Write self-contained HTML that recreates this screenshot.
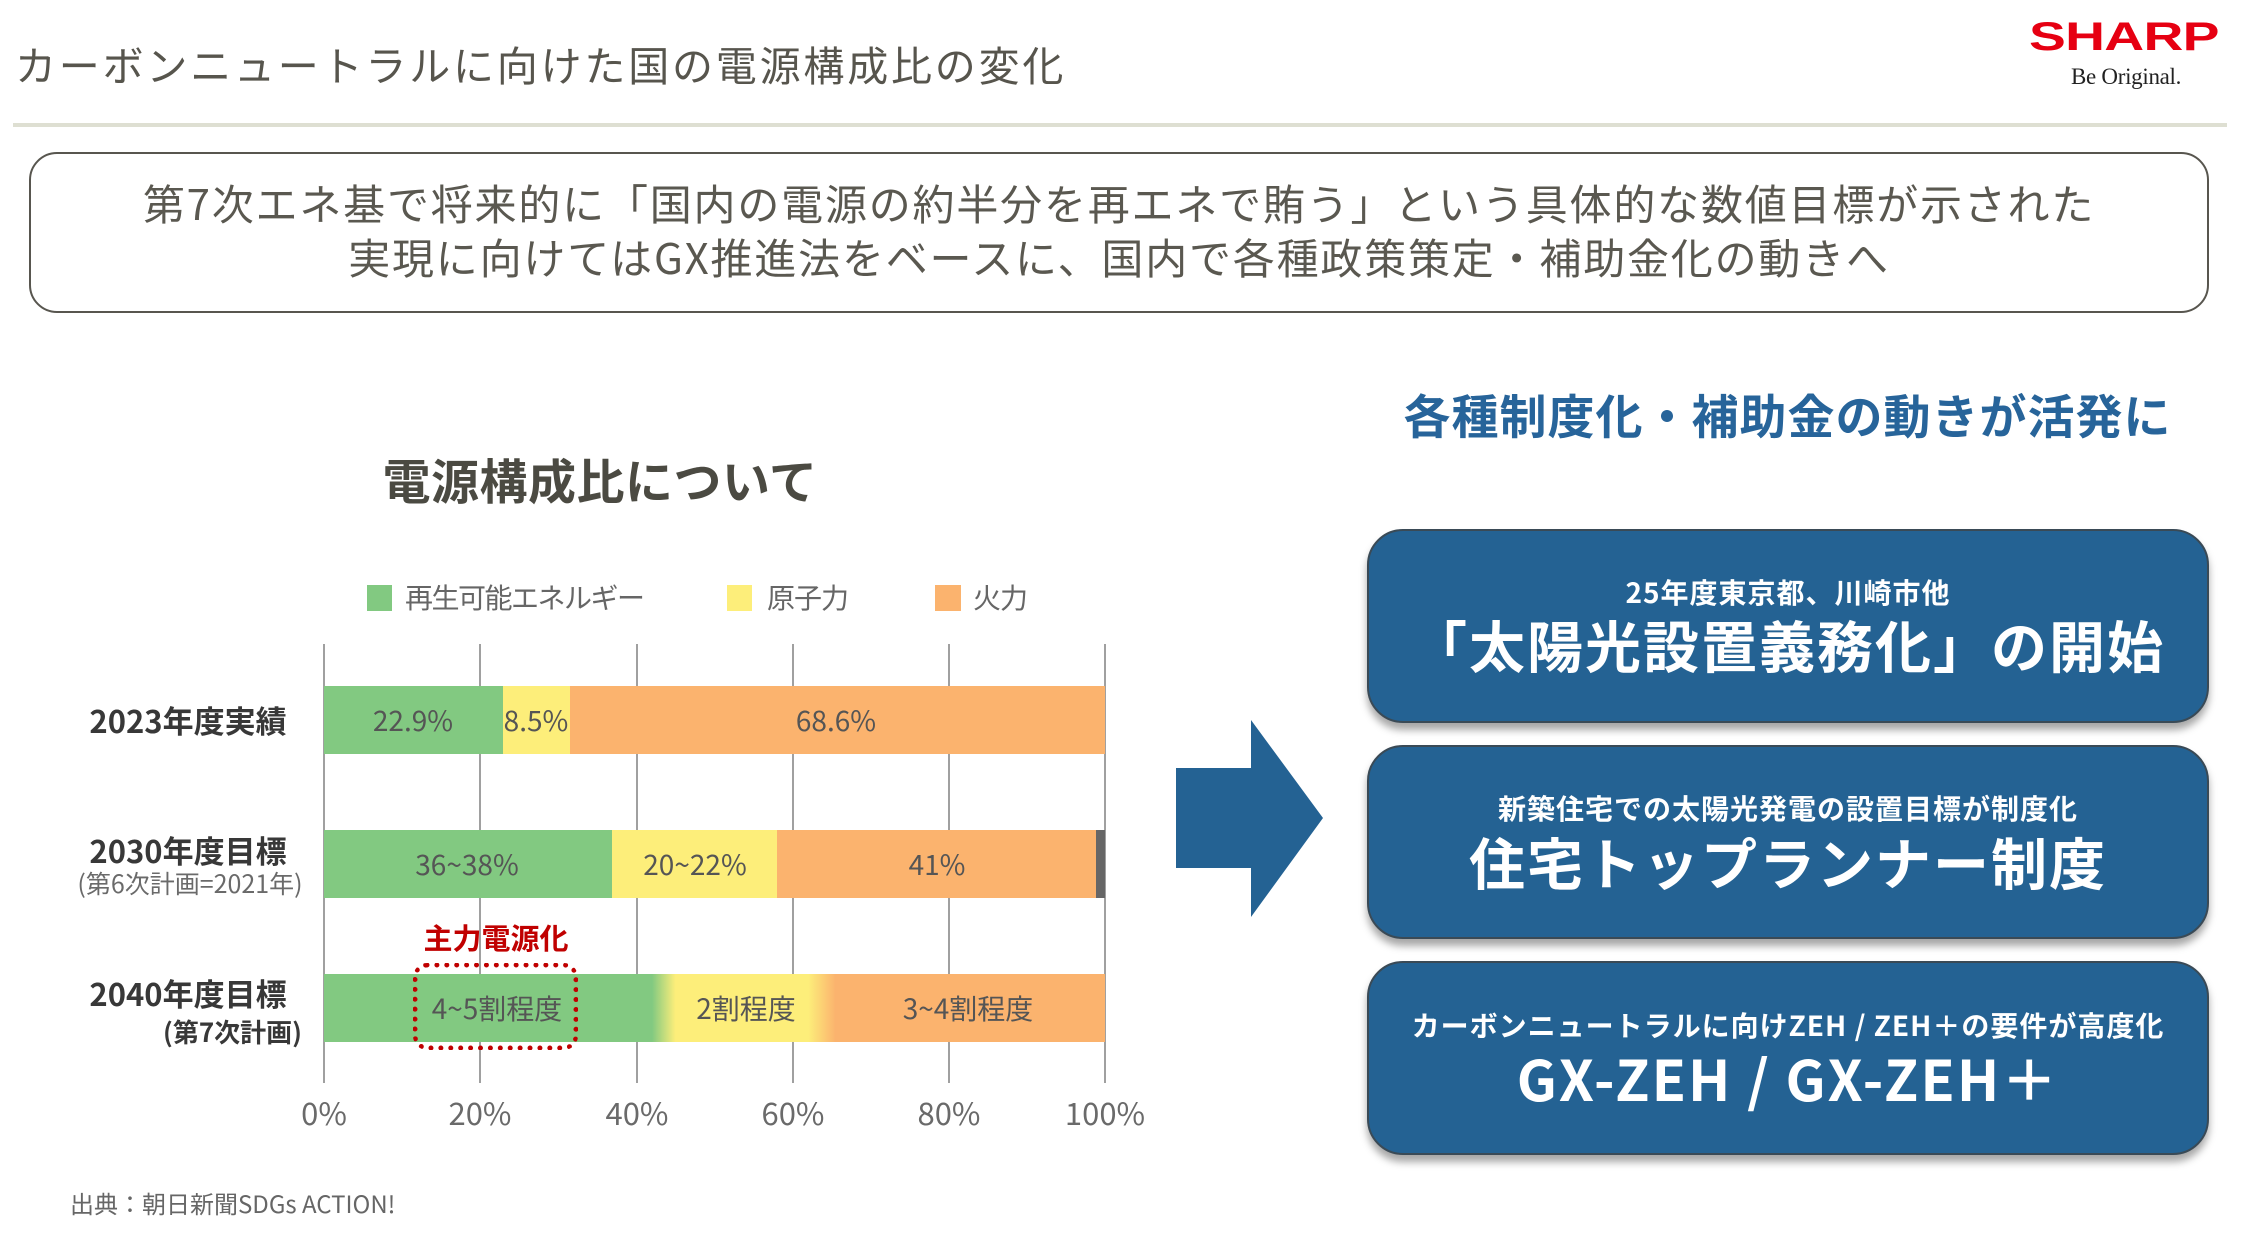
<!DOCTYPE html>
<html>
<head>
<meta charset="utf-8">
<style>
*{margin:0;padding:0;box-sizing:border-box;}
html,body{width:2241px;height:1249px;background:#fff;overflow:hidden;}
body{position:relative;font-family:"Liberation Sans","Noto Sans CJK JP",sans-serif;}
.a{position:absolute;white-space:nowrap;}
.jp{font-family:"Noto Sans CJK JP","Liberation Sans",sans-serif;}
.c{text-align:center;}
.grid{position:absolute;top:644px;height:439px;width:2px;background:#a0a0a0;}
.seg{position:absolute;}
.bl{position:absolute;font-size:28px;color:#555;text-align:center;line-height:68px;height:68px;}
.ax{position:absolute;top:1090px;width:120px;text-align:center;font-size:31px;color:#6a6a6a;line-height:44px;}
.box{position:absolute;left:1367px;width:842px;height:194px;background:#246293;border:2px solid #3a4a56;border-radius:36px;box-shadow:0 7px 8px rgba(0,0,0,0.35);}
.sub{position:absolute;left:0;width:100%;text-align:center;color:#fff;font-weight:700;font-size:28px;letter-spacing:1px;line-height:40px;}
.main{position:absolute;left:0;width:100%;text-align:center;color:#fff;font-weight:700;font-size:56px;letter-spacing:2px;line-height:70px;}
</style>
</head>
<body>

<!-- Header -->
<div class="a jp" style="left:15px;top:35px;font-size:41px;letter-spacing:2.8px;color:#57554d;line-height:56px;">カーボンニュートラルに向けた国の電源構成比の変化</div>

<div class="a" style="left:2029px;top:14px;width:190px;height:46px;">
  <div style="font-family:'Liberation Sans',sans-serif;font-weight:700;font-size:40px;color:#e60012;transform:scaleX(1.38);transform-origin:left top;line-height:46px;letter-spacing:-0.5px;">SHARP</div>
</div>
<div class="a" style="left:2071px;top:62px;font-family:'Liberation Serif',serif;font-size:23px;color:#222;line-height:30px;letter-spacing:-0.3px;">Be Original.</div>

<div class="a" style="left:13px;top:123px;width:2214px;height:4px;background:#dedfd2;"></div>

<!-- Message box -->
<div class="a" style="left:29px;top:152px;width:2180px;height:161px;border:2.5px solid #58564f;border-radius:28px;"></div>
<div class="a jp c" style="left:29px;top:176px;width:2180px;font-size:42px;letter-spacing:1.8px;color:#5a5850;line-height:54px;">第7次エネ基で将来的に「国内の電源の約半分を再エネで賄う」という具体的な数値目標が示された</div>
<div class="a jp c" style="left:29px;top:230px;width:2180px;font-size:42px;letter-spacing:1.8px;color:#5a5850;line-height:54px;">実現に向けてはGX推進法をベースに、国内で各種政策策定・補助金化の動きへ</div>

<!-- Chart title -->
<div class="a jp c" style="left:300px;top:448px;width:600px;font-size:48px;font-weight:700;color:#4b4a42;line-height:60px;letter-spacing:0.5px;">電源構成比について</div>

<!-- Legend -->
<div class="a" style="left:367px;top:585px;width:25px;height:26px;background:#82c981;"></div>
<div class="a jp" style="left:405px;top:578px;font-size:28px;color:#666;line-height:38px;letter-spacing:-1.5px;">再生可能エネルギー</div>
<div class="a" style="left:727px;top:585px;width:25px;height:26px;background:#fdee7a;"></div>
<div class="a jp" style="left:767px;top:578px;font-size:28px;color:#666;line-height:38px;letter-spacing:-1px;">原子力</div>
<div class="a" style="left:935px;top:585px;width:26px;height:26px;background:#fbb36e;"></div>
<div class="a jp" style="left:973px;top:578px;font-size:28px;color:#666;line-height:38px;letter-spacing:-1px;">火力</div>

<!-- Grid -->
<div class="grid" style="left:323px;"></div>
<div class="grid" style="left:479px;"></div>
<div class="grid" style="left:636px;"></div>
<div class="grid" style="left:792px;"></div>
<div class="grid" style="left:948px;"></div>
<div class="grid" style="left:1104px;"></div>

<!-- Bar 2023 -->
<div class="seg" style="left:324px;top:686px;width:179px;height:68px;background:#82c981;"></div>
<div class="seg" style="left:503px;top:686px;width:67px;height:68px;background:#fdee7a;"></div>
<div class="seg" style="left:570px;top:686px;width:535px;height:68px;background:#fbb36e;"></div>
<div class="bl jp" style="left:353px;top:686px;width:120px;">22.9%</div>
<div class="bl jp" style="left:496px;top:686px;width:80px;">8.5%</div>
<div class="bl jp" style="left:776px;top:686px;width:120px;">68.6%</div>

<!-- Bar 2030 -->
<div class="seg" style="left:324px;top:830px;width:288px;height:68px;background:#82c981;"></div>
<div class="seg" style="left:612px;top:830px;width:165px;height:68px;background:#fdee7a;"></div>
<div class="seg" style="left:777px;top:830px;width:319px;height:68px;background:#fbb36e;"></div>
<div class="seg" style="left:1096px;top:830px;width:9px;height:68px;background:#666;"></div>
<div class="bl jp" style="left:397px;top:830px;width:140px;">36~38%</div>
<div class="bl jp" style="left:625px;top:830px;width:140px;">20~22%</div>
<div class="bl jp" style="left:877px;top:830px;width:120px;">41%</div>

<!-- Bar 2040 -->
<div class="seg" style="left:324px;top:974px;width:781px;height:68px;background:linear-gradient(to right,#82c981 0%,#82c981 42%,#fdee7a 45%,#fdee7a 62%,#fbb36e 65.5%,#fbb36e 100%);"></div>
<div class="bl jp" style="left:417px;top:974px;width:160px;">4~5割程度</div>
<div class="bl jp" style="left:676px;top:974px;width:140px;">2割程度</div>
<div class="bl jp" style="left:888px;top:974px;width:160px;">3~4割程度</div>

<!-- dotted highlight -->
<div class="a" style="left:413px;top:963px;width:165px;height:87px;border:5px dotted #c00000;border-radius:14px;"></div>
<div class="a jp c" style="left:396px;top:918px;width:200px;font-size:29px;font-weight:700;color:#c00000;line-height:38px;">主力電源化</div>

<!-- Category labels -->
<div class="a jp c" style="left:68px;top:700px;width:240px;font-size:31px;font-weight:700;color:#383838;line-height:40px;">2023年度実績</div>
<div class="a jp c" style="left:68px;top:830px;width:240px;font-size:31px;font-weight:700;color:#383838;line-height:40px;">2030年度目標</div>
<div class="a jp c" style="left:60px;top:866px;width:260px;font-size:25px;color:#6a6a6a;line-height:34px;">(第6次計画=2021年)</div>
<div class="a jp c" style="left:68px;top:973px;width:240px;font-size:31px;font-weight:700;color:#383838;line-height:40px;">2040年度目標</div>
<div class="a jp" style="left:100px;top:1014px;width:202px;text-align:right;font-size:26px;font-weight:700;color:#383838;line-height:36px;">(第7次計画)</div>

<!-- Axis labels -->
<div class="ax jp" style="left:264px;">0%</div>
<div class="ax jp" style="left:420px;">20%</div>
<div class="ax jp" style="left:577px;">40%</div>
<div class="ax jp" style="left:733px;">60%</div>
<div class="ax jp" style="left:889px;">80%</div>
<div class="ax jp" style="left:1045px;">100%</div>

<!-- Source -->
<div class="a jp" style="left:70px;top:1186px;font-size:24px;color:#666;line-height:34px;">出典：朝日新聞SDGs ACTION!</div>

<!-- Arrow -->
<svg class="a" style="left:0;top:0;" width="2241" height="1249" viewBox="0 0 2241 1249">
  <polygon points="1176,768 1251,768 1251,720 1323,818 1251,917 1251,868 1176,868" fill="#246293"/>
</svg>

<!-- Right heading -->
<div class="a jp c" style="left:1380px;top:384px;width:815px;font-size:47px;font-weight:700;color:#27649a;line-height:60px;letter-spacing:1px;">各種制度化・補助金の動きが活発に</div>

<!-- Box 1 -->
<div class="box" style="top:529px;">
  <div class="sub jp" style="top:41px;">25年度東京都、川崎市他</div>
  <div class="main jp" style="top:79px;">「太陽光設置義務化」の開始</div>
</div>

<!-- Box 2 -->
<div class="box" style="top:745px;">
  <div class="sub jp" style="top:41px;">新築住宅での太陽光発電の設置目標が制度化</div>
  <div class="main jp" style="top:80px;">住宅トップランナー制度</div>
</div>

<!-- Box 3 -->
<div class="box" style="top:961px;">
  <div class="sub jp" style="top:42px;">カーボンニュートラルに向けZEH / ZEH＋の要件が高度化</div>
  <div class="main jp" style="top:80px;">GX-ZEH / GX-ZEH＋</div>
</div>

</body>
</html>
